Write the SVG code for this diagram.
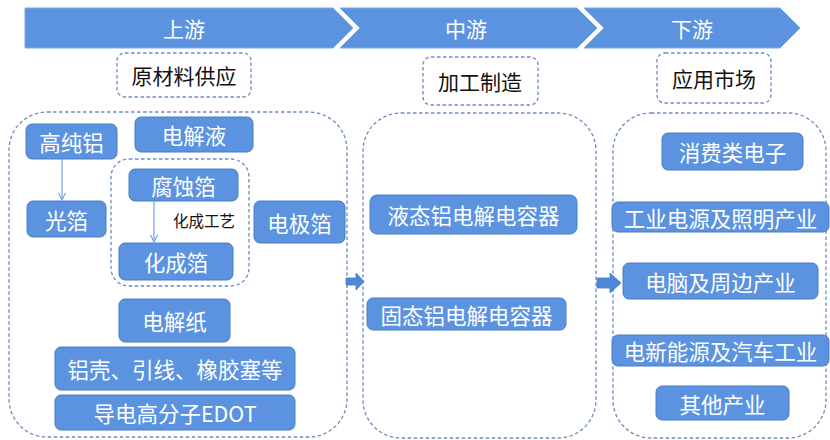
<svg xmlns="http://www.w3.org/2000/svg" width="830" height="440" viewBox="0 0 830 440">
<defs>
<style>
.chev{fill:#5b93e0;stroke:#7aa6e6;stroke-width:1}
.ct{font-family:"Noto Sans CJK SC","Noto Sans",sans-serif;font-size:21px;fill:#fff;text-anchor:middle;dominant-baseline:central}
.dash{fill:#fff;stroke:#6a8cc0;stroke-width:1.3;stroke-dasharray:3.5 2.5}
.lbl{font-family:"Noto Sans CJK SC","Noto Sans",sans-serif;font-size:21px;fill:#111;text-anchor:middle;dominant-baseline:central}
.node rect{fill:#5b93e0;stroke:#4a7cc4;stroke-width:1}
.node text{font-family:"Noto Sans CJK SC","Noto Sans",sans-serif;font-size:21.5px;fill:#fff;text-anchor:middle;dominant-baseline:central}
.small{font-family:"Noto Sans CJK SC","Noto Sans",sans-serif;font-size:15.5px;fill:#111;text-anchor:middle;dominant-baseline:central}
.conn{stroke:#7aa6e6;stroke-width:1.3;fill:none;marker-end:url(#ah)}
.block{fill:#4f88d8;stroke:#4a7cc4;stroke-width:0.8}
</style>
<marker id="ah" viewBox="0 0 10 10" refX="9" refY="5" markerWidth="9" markerHeight="9" markerUnits="userSpaceOnUse" orient="auto">
<path d="M1,1 L9,5 L1,9" fill="none" stroke="#7aa6e6" stroke-width="1.3"/>
</marker>
</defs>
<rect width="830" height="440" fill="#fff"/>

<g id="stage-up">
<polygon class="chev" points="25,8 333,8 353,28 333,48 25,48"/>
<text class="ct" x="184" y="28">上游</text>
</g>
<g id="stage-mid">
<polygon class="chev" points="340,8 577,8 597,28 577,48 340,48 360,28"/>
<text class="ct" x="466" y="28">中游</text>
</g>
<g id="stage-down">
<polygon class="chev" points="584,8 780,8 800,28 780,48 584,48 604,28"/>
<text class="ct" x="692" y="28">下游</text>
</g>

<g id="label-raw">
<rect class="dash" x="117" y="53" width="134" height="44" rx="8"/>
<text class="lbl" x="184" y="75">原材料供应</text>
</g>
<g id="label-mfg">
<rect class="dash" x="423" y="57" width="115" height="48" rx="8"/>
<text class="lbl" x="480" y="81">加工制造</text>
</g>
<g id="label-market">
<rect class="dash" x="657" y="53" width="114" height="50" rx="8"/>
<text class="lbl" x="714" y="78">应用市场</text>
</g>

<g id="panel-up"><rect class="dash" x="9" y="112" width="338" height="325" rx="38"/></g>
<g id="panel-mid"><rect class="dash" x="363" y="113" width="233" height="325" rx="38"/></g>
<g id="panel-down"><rect class="dash" x="613" y="113" width="213" height="325" rx="38"/></g>
<g id="group-foil"><rect class="dash" x="111" y="159" width="138" height="127" rx="18"/></g>

<g id="n-gaochunlv" class="node"><rect x="26" y="124" width="91" height="35" rx="6"/><text x="71.5" y="141.5">高纯铝</text></g>
<g id="n-dianjieye" class="node"><rect x="135" y="117" width="118" height="35" rx="6"/><text x="194" y="134.5">电解液</text></g>
<g id="n-guangbo" class="node"><rect x="27" y="201" width="79" height="36" rx="6"/><text x="66.5" y="219">光箔</text></g>
<g id="n-fushibo" class="node"><rect x="129" y="169" width="109" height="32" rx="6"/><text x="183.5" y="185">腐蚀箔</text></g>
<g id="n-huachengbo" class="node"><rect x="119" y="243" width="114" height="37" rx="6"/><text x="176" y="261.5">化成箔</text></g>
<g id="n-dianjibo" class="node"><rect x="254" y="201" width="91" height="42" rx="6"/><text x="299.5" y="222">电极箔</text></g>
<g id="n-dianjiezhi" class="node"><rect x="119" y="299" width="111" height="43" rx="6"/><text x="174.5" y="320.5">电解纸</text></g>
<g id="n-lvke" class="node"><rect x="55" y="347" width="240" height="43" rx="6"/><text x="175" y="368.5">铝壳、引线、橡胶塞等</text></g>
<g id="n-edot" class="node"><rect x="55" y="395" width="240" height="35" rx="6"/><text x="175" y="412.5">导电高分子EDOT</text></g>

<g id="n-liquid" class="node"><rect x="370" y="195" width="207" height="39" rx="7"/><text x="473.5" y="214.5">液态铝电解电容器</text></g>
<g id="n-solid" class="node"><rect x="367" y="298" width="199" height="32" rx="6"/><text x="466.5" y="314">固态铝电解电容器</text></g>

<g id="n-consumer" class="node"><rect x="662" y="133" width="141" height="37" rx="6"/><text x="732.5" y="151.5">消费类电子</text></g>
<g id="n-industry" class="node"><rect x="612" y="202" width="217" height="30" rx="6"/><text x="720.5" y="217">工业电源及照明产业</text></g>
<g id="n-computer" class="node"><rect x="623" y="263" width="195" height="36" rx="6"/><text x="720.5" y="281">电脑及周边产业</text></g>
<g id="n-ev" class="node"><rect x="612" y="335" width="217" height="31" rx="6"/><text x="720.5" y="350.5">电新能源及汽车工业</text></g>
<g id="n-other" class="node"><rect x="656" y="386" width="133" height="34" rx="6"/><text x="722.5" y="403">其他产业</text></g>

<g id="connectors">
<line class="conn" x1="62" y1="159" x2="62" y2="200"/>
<line class="conn" x1="154" y1="201" x2="154" y2="242"/>
<polygon class="block" points="346,278 356,278 356,273 364,281.5 356,290 356,285 346,285"/>
<polygon class="block" points="597,278 610,278 610,273 621,283 610,293 610,288 597,288"/>
<text class="small" x="204" y="220">化成工艺</text>
</g>
</svg>
